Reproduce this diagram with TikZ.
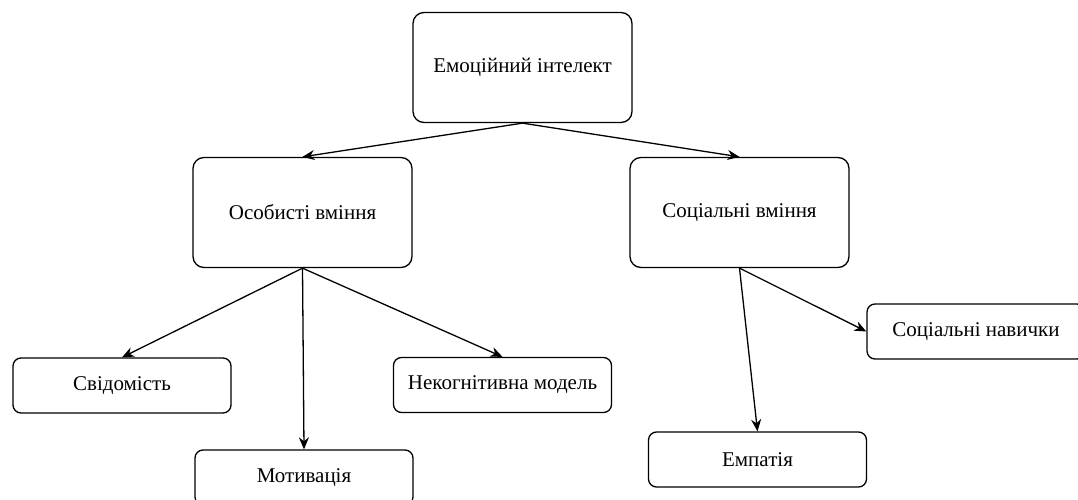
\documentclass[tikz,border=0pt]{standalone}
\usepackage{fontspec}
\setmainfont{Liberation Serif}
\usetikzlibrary{arrows.meta}
\begin{document}
\begin{tikzpicture}[x=1pt,y=-1pt,
  bigbox/.style={draw, line width=1.3pt, rounded corners=11pt, minimum width=219pt, minimum height=110pt, inner sep=0pt, font=\fontsize{21}{25}\selectfont, fill=white},
  smallbox/.style={draw, line width=1.3pt, rounded corners=8pt, minimum width=218pt, minimum height=55pt, inner sep=0pt, font=\fontsize{21}{25}\selectfont, fill=white},
  conn/.style={line width=1.3pt, -{Stealth[length=12pt,width=10pt]}}]
\clip (0,0) rectangle (1078,500);
\fill[white] (0,0) rectangle (1078,500);
\node[bigbox] (ei) at (522.5,67.5) {Емоційний інтелект};
\node[bigbox] (ov) at (302.5,212.5) {Особисті вміння};
\node[bigbox] (sv) at (739.5,212.5) {Соціальні вміння};
\node[smallbox] (svd) at (122,385.5) {Свідомість};
\node[smallbox] (nek) at (502.5,385) {Некогнітивна модель};
\node[smallbox] (mot) at (304,477.5) {Мотивація};
\node[smallbox] (emp) at (757.5,459.5) {Емпатія};
\node[smallbox] (sn) at (976,331.5) {Соціальні навички};
\coordinate (eib) at (ei.south);
\coordinate (ovb) at (ov.south);
\coordinate (svb) at (sv.south);
\draw[conn] (eib) -- (ov.north);
\draw[conn] (eib) -- (sv.north);
\draw[conn] (ovb) -- (svd.north);
\draw[conn] (ovb) -- (mot.north);
\draw[conn] (ovb) -- (nek.north);
\draw[conn] (svb) -- (sn.west);
\draw[conn] (svb) -- (emp.north);
\end{tikzpicture}
\end{document}
